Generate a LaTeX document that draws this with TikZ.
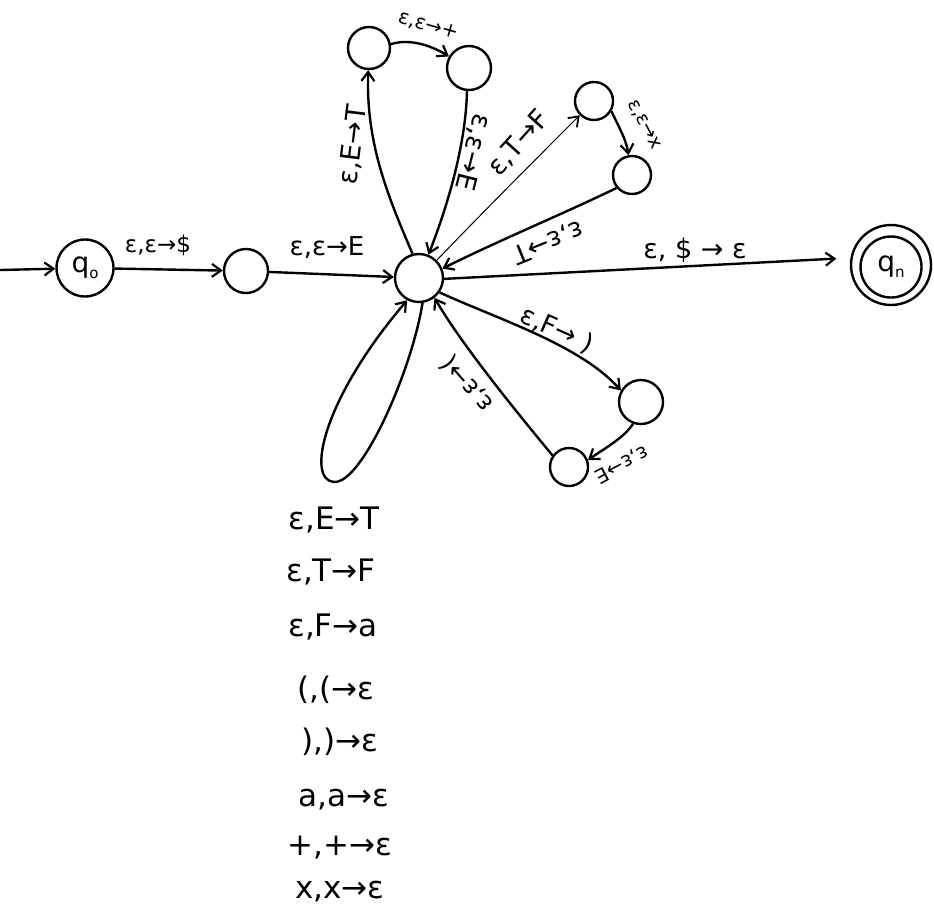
\documentclass[tikz,border=0pt]{standalone}
\usepackage{fontspec}
\setmainfont{DejaVu Sans}
\usetikzlibrary{arrows.meta}
\begin{document}
\begin{tikzpicture}[x=1pt,y=-1pt,
  st/.style={circle,draw,line width=2.4pt,minimum size=#1,inner sep=0pt},
  st/.default=44pt,
  ed/.style={line width=2.4pt,-{Straight Barb[length=9pt,width=13pt,line width=2.2pt]}},
  thined/.style={line width=1pt,-{Straight Barb[length=9pt,width=13pt,line width=1.8pt]}},
  lab/.style={font=\fontsize{#1}{#1}\selectfont,inner sep=0pt},
  lab/.default=22,
  big/.style={font=\fontsize{31}{31}\selectfont,inner sep=0pt}]
\useasboundingbox (0,0) rectangle (934,914);

% states
\node[st=57pt,font=\fontsize{28}{28}\selectfont] (q0) at (85,268) {q\raisebox{-6pt}{\fontsize{15}{15}\selectfont o}};
\node[st=44pt] (s1) at (246,271) {};
\node[st=48pt] (C) at (419,278) {};
\node[st=42pt] (A) at (369,48) {};
\node[st=44pt] (B) at (469,68) {};
\node[st=38pt] (D) at (594,101) {};
\node[st=38pt] (E) at (632,175) {};
\node[st=44pt] (G) at (641,402) {};
\node[st=38pt] (H) at (569,467) {};
\node[st=80pt] (qf) at (891,265) {};
\node[st=61pt,font=\fontsize{28}{28}\selectfont] (qfin) at (891,267) {q\raisebox{-6pt}{\fontsize{15}{15}\selectfont n}};
\coordinate (start) at (0,270);
\coordinate (lb) at (334,482);

% edges
\draw[ed] (start) -- (q0);
\draw[ed] (q0) -- (s1);
\draw[ed] (s1) -- (C);
\draw[ed] (C.105) .. controls (385,190) and (366,140) .. (A.-92);
\draw[ed] (A.10) .. controls (410,38) and (432,46) .. (B.150);
\draw[ed] (B.-95) .. controls (466,140) and (450,200) .. (C.68);
\draw[thined] (C.45) .. controls (485,210) and (535,160) .. (D.-135);
\draw[ed] (D.-30) .. controls (616,122) and (626,138) .. (E.100);
\draw[ed] (E.-140) .. controls (565,213) and (500,240) .. (C.22);
\draw[ed,shorten >=14pt] (C.-2) -- (qf.170);
\draw[ed] (C.-35) .. controls (500,320) and (580,345) .. (G.150);
\draw[ed] (G.-110) .. controls (624,438) and (602,450) .. (H.20);
\draw[ed] (H.145) .. controls (515,410) and (462,345) .. (C.-52);
\draw[ed] (C.-82) .. controls (412,370) and (362,484) .. (lb)
          .. controls (306,480) and (322,400) .. (C.-118);

% edge labels
\node[lab=23] (l1) at (158,245) {ε,ε→\$};
\node[lab=26] (l2) at (327,248) {ε,ε→E};
\node[lab=27,rotate=83] (l3) at (353,145) {ε,E→T};
\node[lab=20,rotate=-16] (l4) at (428,26) {ε,ε→+};
\node[lab=27,rotate=-104] (l5) at (473,152) {ε,ε→E};
\node[lab=27,rotate=48] (l6) at (519,143) {ε,T→F};
\node[lab=19,rotate=-62] (l7) at (644,125) {ε,ε→x};
\node[lab=26,rotate=202] (l8) at (548,242) {ε,ε→T};
\node[lab=27] (l9) at (695,250) {ε, \$ → ε};
\node[lab=26,rotate=-24] (l10) at (557,330) {ε,F→ )};
\node[lab=20,rotate=208] (l11) at (622,464) {ε,ε→E};
\node[lab=25,rotate=131] (l12) at (467,384) {ε,ε→(};

% self-loop labels
\node[big] (t1) at (334,520) {ε,E→T};
\node[big] (t2) at (331,572) {ε,T→F};
\node[big] (t3) at (333,627) {ε,F→a};
\node[big] (t4) at (336,690) {(,(→ε};
\node[big] (t5) at (340,742) {),)→ε};
\node[big] (t6) at (344,800) {a,a→ε};
\node[big] (t7) at (340,848) {+,+→ε};
\node[big] (t8) at (340,892) {x,x→ε};
\end{tikzpicture}
\end{document}
